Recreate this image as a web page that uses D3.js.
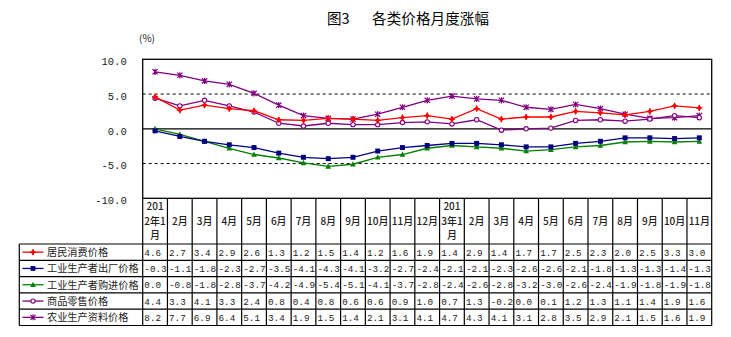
<!DOCTYPE html>
<html>
<head>
<meta charset="utf-8">
<script src="https://cdn.jsdelivr.net/npm/d3@7"></script>
<style>
  html, body { margin: 0; padding: 0; background: #fff; }
  svg { display: block; }
</style>
</head>
<body>
<svg id="chart" width="731" height="337"></svg>
<script>
// Months: Jan 2012 – Nov 2013 (the Januaries carry the year)
const months = ["2012年1月","2月","3月","4月","5月","6月","7月","8月","9月","10月","11月","12月",
                "2013年1月","2月","3月","4月","5月","6月","7月","8月","9月","10月","11月"];
// Wrapped header lines for each month cell
const monthLines = months.map(m => m.length > 4 ? [m.slice(0,3), m.slice(3,6), m.slice(6)] : [m]);

const seriesNames = ["居民消费价格","工业生产者出厂价格","工业生产者购进价格","商品零售价格","农业生产资料价格"];
const cpi    = [4.6,2.7,3.4,2.9,2.6,1.3,1.2,1.5,1.4,1.2,1.6,1.9, 1.4,2.9,1.4,1.7,1.7,2.5,2.3,2.0,2.5,3.3,3.0];
const ppiOut = [-0.3,-1.1,-1.8,-2.3,-2.7,-3.5,-4.1,-4.3,-4.1,-3.2,-2.7,-2.4, -2.1,-2.1,-2.3,-2.6,-2.6,-2.1,-1.8,-1.3,-1.3,-1.4,-1.3];
const ppiIn  = [0.0,-0.8,-1.8,-2.8,-3.7,-4.2,-4.9,-5.4,-5.1,-4.1,-3.7,-2.8, -2.4,-2.6,-2.8,-3.2,-3.0,-2.6,-2.4,-1.9,-1.8,-1.9,-1.8];
const retail = [4.4,3.3,4.1,3.3,2.4,0.8,0.4,0.8,0.6,0.6,0.9,1.0, 0.7,1.3,-0.2,0.0,0.1,1.2,1.3,1.1,1.4,1.9,1.6];
const agri   = [8.2,7.7,6.9,6.4,5.1,3.4,1.9,1.5,1.4,2.1,3.1,4.1, 4.7,4.3,4.1,3.1,2.8,3.5,2.9,2.1,1.5,1.6,1.9];
const seriesValues = [cpi, ppiOut, ppiIn, retail, agri];
const seriesColors = ["#ff0000","#000080","#008000","#800080","#800080"];
const seriesMarkers = ["diamond","square","triangle","circle","star"];

const yTicks = [10, 5, 0, -5, -10];

const svg = d3.select("#chart");
const plot = { left: 142.7, right: 711.7, top: 59.3, bottom: 198.3 };
const table = { left: 19.3, top: 244, rowH: 16.3 };

const x = d3.scaleBand().domain(d3.range(months.length)).range([plot.left, plot.right]);
const y = d3.scaleLinear().domain([-10, 10]).range([plot.bottom, plot.top]);

const monoFont = "'Liberation Mono', 'DejaVu Sans Mono', monospace";
const cjkFont = "'Noto Sans CJK SC', 'Noto Sans', sans-serif";

// Title and unit
svg.append("text").attr("x", 327).attr("y", 24)
  .attr("font-family", cjkFont).attr("font-size", 14.5).attr("fill", "#000")
  .text("图3");
svg.append("text").attr("x", 372).attr("y", 24)
  .attr("font-family", cjkFont).attr("font-size", 14.5).attr("fill", "#000")
  .attr("textLength", 117).text("各类价格月度涨幅");
svg.append("text").attr("x", 139).attr("y", 42)
  .attr("font-family", cjkFont).attr("font-size", 10).attr("fill", "#222")
  .text("(%)");

// Y axis labels (no tick marks, no domain line)
const yAxis = d3.axisLeft(y).tickValues(yTicks).tickSize(0).tickPadding(16)
  .tickFormat(d3.format(".1f"));
const yG = svg.append("g").attr("transform", `translate(${plot.left},0)`).call(yAxis);
yG.select(".domain").remove();
yG.selectAll("text").attr("font-family", monoFont).attr("font-size", 10.5)
  .attr("fill", "#222").attr("dy", "0.5em")
  .text(d => d3.format(".1f")(d).replace("−", "-"));

// Reference lines: dashed at ±5, solid at 0
[5, -5].forEach(v => {
  svg.append("line").attr("x1", plot.left).attr("x2", plot.right)
    .attr("y1", y(v)).attr("y2", y(v))
    .attr("stroke", "#000").attr("stroke-width", 1).attr("stroke-dasharray", "3,3");
});
svg.append("line").attr("x1", plot.left).attr("x2", plot.right)
  .attr("y1", y(0)).attr("y2", y(0)).attr("stroke", "#000").attr("stroke-width", 1.3);

// Plot frame
svg.append("rect").attr("x", plot.left).attr("y", plot.top)
  .attr("width", plot.right - plot.left).attr("height", plot.bottom - plot.top)
  .attr("fill", "none").attr("stroke", "#000").attr("stroke-width", 1.3);

// Marker shapes
function drawMarker(g, type, color, size) {
  const s = size;
  if (type === "diamond") {
    g.append("path").attr("d", `M0,${-s}L${s*0.75},0L0,${s}L${-s*0.75},0Z`).attr("fill", color);
    g.append("path").attr("d", `M${-s},0L${s},0M0,${-s}L0,${s}`).attr("stroke", color).attr("stroke-width", 1.2);
  } else if (type === "square") {
    g.append("rect").attr("x", -s*0.8).attr("y", -s*0.8).attr("width", s*1.6).attr("height", s*1.6).attr("fill", color);
  } else if (type === "triangle") {
    g.append("path").attr("d", `M0,${-s}L${s*0.9},${s*0.75}L${-s*0.9},${s*0.75}Z`).attr("fill", color);
  } else if (type === "circle") {
    g.append("circle").attr("r", s*0.7).attr("fill", "#fff").attr("stroke", color).attr("stroke-width", 1.1);
  } else if (type === "star") {
    const r = s * 0.85;
    g.append("path")
      .attr("d", `M${-r},${-r}L${r},${r}M${-r},${r}L${r},${-r}M0,${-s}L0,${s}`)
      .attr("stroke", color).attr("stroke-width", 1.2);
  }
}

// Series lines with markers (drawn back to front)
const line = d3.line().x((d, i) => x(i) + x.bandwidth() / 2).y(d => y(d));
const order = [4, 3, 0, 2, 1];
order.forEach(si => {
  const vals = seriesValues[si];
  svg.append("path").datum(vals).attr("d", line)
    .attr("fill", "none").attr("stroke", seriesColors[si]).attr("stroke-width", 1.3);
  vals.forEach((v, i) => {
    const g = svg.append("g").attr("transform", `translate(${x(i) + x.bandwidth() / 2},${y(v)})`);
    drawMarker(g, seriesMarkers[si], seriesColors[si], 3.1);
  });
});

// Month header cells
const tableBottom = table.top + table.rowH * seriesNames.length;
months.forEach((m, i) => {
  const lines = monthLines[i];
  const cx = x(i) + x.bandwidth() / 2;
  const midY = (plot.bottom + table.top) / 2;
  lines.forEach((t, k) => {
    svg.append("text").attr("x", cx).attr("y", midY + (k - (lines.length - 1) / 2) * 14.5 + 3.8)
      .attr("text-anchor", "middle").attr("font-family", cjkFont).attr("font-size", 10)
      .attr("font-weight", 500).attr("fill", "#222").text(t);
  });
});

// Grid lines of header and table
const gridColor = "#000";
d3.range(months.length + 1).forEach(i => {
  const xx = i < months.length ? x(i) : plot.right;
  svg.append("line").attr("x1", xx).attr("x2", xx).attr("y1", plot.bottom).attr("y2", tableBottom)
    .attr("stroke", gridColor).attr("stroke-width", 1.2);
});
svg.append("line").attr("x1", table.left).attr("x2", table.left).attr("y1", table.top).attr("y2", tableBottom)
  .attr("stroke", gridColor).attr("stroke-width", 1.2);
d3.range(seriesNames.length + 1).forEach(r => {
  const yy = table.top + r * table.rowH;
  svg.append("line").attr("x1", table.left).attr("x2", plot.right).attr("y1", yy).attr("y2", yy)
    .attr("stroke", gridColor).attr("stroke-width", 1.2);
});

// Table rows: legend key, name and values
seriesNames.forEach((name, r) => {
  const cy = table.top + r * table.rowH + table.rowH / 2;
  svg.append("line").attr("x1", 22.5).attr("x2", 43.5).attr("y1", cy).attr("y2", cy)
    .attr("stroke", seriesColors[r]).attr("stroke-width", 1.3);
  const g = svg.append("g").attr("transform", `translate(33,${cy})`);
  drawMarker(g, seriesMarkers[r], seriesColors[r], 3.0);
  svg.append("text").attr("x", 47).attr("y", cy + 3.8)
    .attr("font-family", cjkFont).attr("font-size", 10.2).attr("fill", "#222").text(name);
  seriesValues[r].forEach((v, i) => {
    svg.append("text").attr("x", x(i) + 1.6).attr("y", cy + 3.6)
      .attr("font-family", monoFont).attr("font-size", 9.3).attr("fill", "#222")
      .text(d3.format(".1f")(v).replace("−", "-"));
  });
});
</script>
</body>
</html>
